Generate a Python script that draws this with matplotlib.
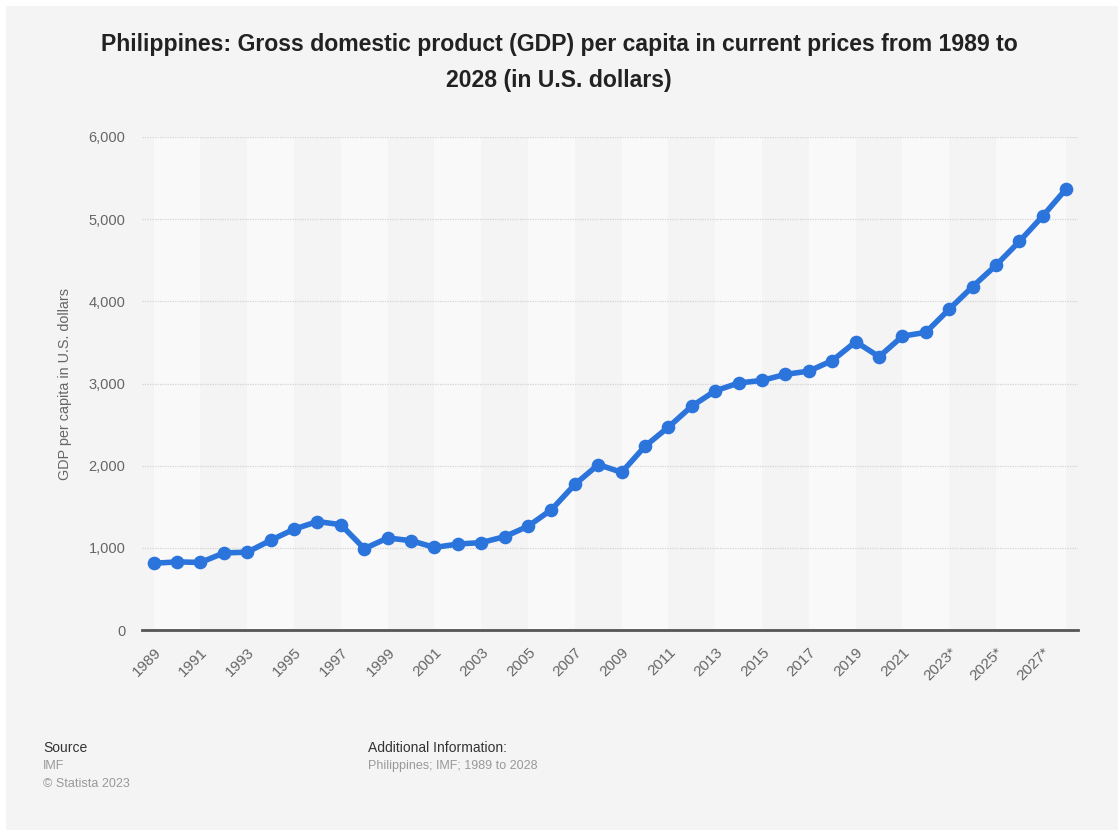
import numpy as np
import matplotlib.pyplot as plt
from matplotlib.patches import Rectangle

# GDP per capita, current prices (USD), IMF; 2023 onward are projections
years = list(range(1989, 2029))
gdp_per_capita = [812, 829, 822, 938, 947, 1092, 1227, 1320, 1282, 990,
                  1120, 1087, 1005, 1046, 1064, 1136, 1263, 1465, 1772, 2013,
                  1919, 2237, 2470, 2725, 2911, 3006, 3038, 3111, 3151, 3279,
                  3508, 3326, 3576, 3623, 3905, 4180, 4440, 4730, 5040, 5370]
tick_years = list(range(1989, 2029, 2))
tick_labels = [str(y) + ('*' if y >= 2023 else '') for y in tick_years]
y_ticks = [0, 1000, 2000, 3000, 4000, 5000, 6000]

plt.rcParams['font.family'] = ['Liberation Sans', 'DejaVu Sans']

bg = '#f4f4f4'
fig = plt.figure(figsize=(11.18, 8.30), dpi=100, facecolor='white')
fig.patches.append(Rectangle((6 / 1118, 0), 1, 1 - 6 / 830, transform=fig.transFigure,
                             facecolor=bg, edgecolor='none', zorder=-10))

ax = fig.add_axes([142 / 1118, 1 - 630 / 830, (1078 - 142) / 1118, (630 - 137) / 830])
ax.set_facecolor(bg)

# alternating column bands, two years wide
for i, y0 in enumerate(tick_years[:-1]):
    if i % 2 == 0:
        ax.axvspan(y0, y0 + 2, color='#f9f9f9', lw=0, zorder=0)
ax.axvspan(2027, 2028, color='#f9f9f9', lw=0, zorder=0)

for yv in y_ticks[1:]:
    ax.axhline(yv, color='#d4d4d4', lw=0.9, ls=(0, (1, 1)), zorder=1)

ax.plot(years, gdp_per_capita, color='#2b74dc', lw=4, marker='o', ms=8.8,
        solid_capstyle='round', solid_joinstyle='round', zorder=3)

ax.set_xlim(1988.5, 2028.5)
ax.set_ylim(0, 6000)
ax.set_yticks(y_ticks)
ax.set_yticklabels([f'{v:,}' for v in y_ticks])
ax.set_xticks(tick_years)
ax.set_xticklabels(tick_labels, rotation=45, ha='right', rotation_mode='anchor')

for s in ['top', 'right', 'left']:
    ax.spines[s].set_visible(False)
ax.spines['bottom'].set_color('#555555')
ax.spines['bottom'].set_linewidth(2)
ax.tick_params(axis='both', length=0, labelcolor='#666666')
ax.tick_params(axis='y', pad=12, labelsize=10.5)
ax.tick_params(axis='x', pad=11, labelsize=11)

ax.set_ylabel('GDP per capita in U.S. dollars', color='#666666', fontsize=10.4, labelpad=12)

fig.text(0.5, 1 - 45 / 830,
         'Philippines: Gross domestic product (GDP) per capita in current prices from 1989 to',
         ha='center', va='center', fontsize=16.6, fontweight='bold', color='#222222')
fig.text(0.5, 1 - 80 / 830, '2028 (in U.S. dollars)',
         ha='center', va='center', fontsize=16.6, fontweight='bold', color='#222222')

fig.text(43 / 1118, 1 - 748 / 830, 'Source', fontsize=10, color='#333333', va='center')
fig.text(43 / 1118, 1 - 766 / 830, 'IMF', fontsize=9, color='#999999', va='center')
fig.text(43 / 1118, 1 - 784 / 830, '© Statista 2023', fontsize=9, color='#999999', va='center')
fig.text(368 / 1118, 1 - 748 / 830, 'Additional Information:', fontsize=10, color='#333333', va='center')
fig.text(368 / 1118, 1 - 766 / 830, 'Philippines; IMF; 1989 to 2028', fontsize=9, color='#999999', va='center')

fig.savefig('out.png', dpi=100, facecolor=fig.get_facecolor())
